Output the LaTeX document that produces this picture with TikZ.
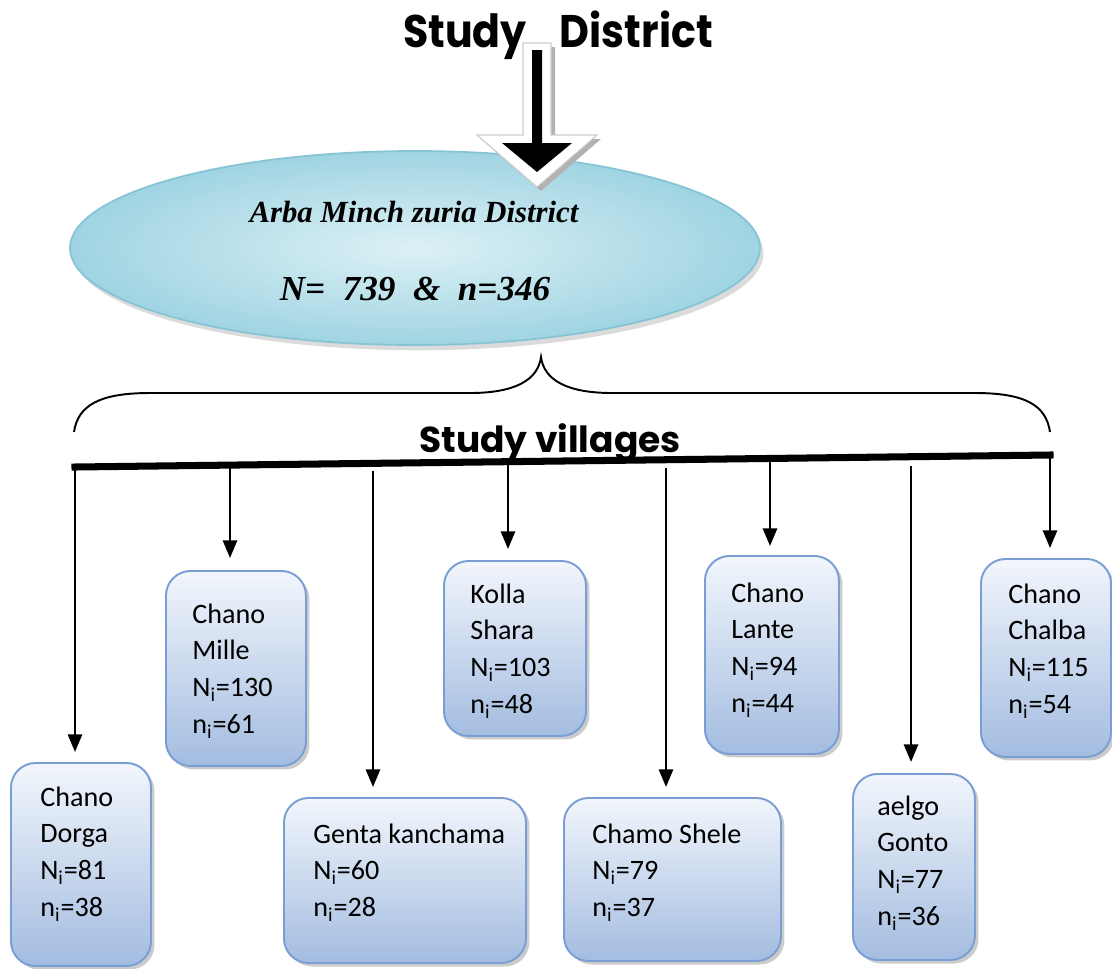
\documentclass[tikz,border=0pt]{standalone}
\usepackage{fontspec}
\setmainfont{Carlito}
\newfontfamily\popfont{Poppins}
\newfontfamily\timesfont{Liberation Serif}
\usetikzlibrary{shapes.geometric,arrows.meta,shadows}
\newdimen\px \px=0.02cm
\definecolor{boxedge}{HTML}{7A9ED4}
\definecolor{boxtop}{HTML}{F2F6FC}
\definecolor{boxbot}{HTML}{A3BCE0}
\definecolor{ellin}{HTML}{DCF1F6}
\definecolor{ellout}{HTML}{A0D4E2}
\definecolor{elledge}{HTML}{86C4D5}
\newcommand\vl[1]{\vtop{\baselineskip=21pt\halign{##\hfil\cr#1\crcr}}}
\tikzset{
  vbox/.style={draw=boxedge, line width=1.1pt, rounded corners=14pt,
    top color=boxtop, bottom color=boxbot, inner sep=0pt, anchor=north west,
    drop shadow={shadow xshift=2pt, shadow yshift=-2pt, fill=black!45, opacity=0.45}},
  vtext/.style={anchor=base west, inner sep=0pt, font=\fontsize{16}{21}\selectfont},
  varrow/.style={line width=1.4pt, -{Triangle[width=8pt,length=10pt]}},
  barline/.style={line width=4pt},
  bracestyle/.style={line width=1.1pt},
  elltext/.style={anchor=base, inner sep=0pt},
}
\begin{document}
\begin{tikzpicture}[x=0.02cm,y=-0.02cm]
\useasboundingbox (0,0) rectangle (1112,968);
% ellipse
\node[ellipse, draw=elledge, line width=1pt, inner color=ellin, outer color=ellout,
  minimum width=690\px, minimum height=194\px,
  drop shadow={shadow xshift=2pt, shadow yshift=-3pt, fill=black!40, opacity=0.35}] (dist) at (415,248) {};
\node[elltext, font=\timesfont\bfseries\itshape\fontsize{17.5}{20}\selectfont] (e1) at (414,222) {Arba Minch zuria District};
\node[elltext, font=\timesfont\bfseries\itshape\fontsize{20}{24}\selectfont] (e2) at (415,300) {N=\hspace{10pt}739\hspace{10pt}\&\hspace{10pt}n=346};
% big arrow
\fill[black!30] (527,47) -- (555,47) -- (555,139) -- (601,139) -- (541,191) -- (481,139) -- (527,139) -- cycle;
\filldraw[fill=white, draw=black!20, line width=0.6pt] (523,43) -- (551,43) -- (551,135) -- (597,135) -- (537,187) -- (477,135) -- (523,135) -- cycle;
\fill[black] (532,50) -- (542,50) -- (542,143) -- (572,143) -- (537,172) -- (502,143) -- (532,143) -- cycle;
% title
\node[anchor=base, inner sep=0pt, font=\popfont\bfseries\fontsize{26}{30}\selectfont] (title) at (558,47) {\scalebox{0.9}[1]{Study\hspace{21pt}District}};
% brace
\coordinate (btip) at (541,357);
\draw[bracestyle] (74,432) .. controls (78,405) and (100,393) .. (150,393) -- (470,393)
  .. controls (515,393) and (538,380) .. (btip)
  .. controls (544,380) and (567,393) .. (612,393) -- (975,393)
  .. controls (1025,393) and (1046,405) .. (1050,432);
% label
\node[anchor=base, inner sep=0pt, font=\popfont\bfseries\fontsize{20.5}{24}\selectfont] (vill) at (550,452) {Study villages};
% boxes
\node[vbox, minimum width=140\px, minimum height=203\px] (b1) at (10,762) {};
\node[vbox, minimum width=140\px, minimum height=195\px] (b2) at (165,570) {};
\node[vbox, minimum width=242\px, minimum height=165\px] (b3) at (283,797) {};
\node[vbox, minimum width=142\px, minimum height=175\px] (b4) at (443,560) {};
\node[vbox, minimum width=217\px, minimum height=163\px] (b5) at (563,797) {};
\node[vbox, minimum width=134\px, minimum height=198\px] (b6) at (704,555) {};
\node[vbox, minimum width=122\px, minimum height=186\px] (b7) at (852,773) {};
\node[vbox, minimum width=130\px, minimum height=198\px] (b8) at (980,558) {};
% texts
\node[vtext] (t1) at (40,806) {\vl{Chano\cr Dorga\cr N\textsubscript{i}=81\cr n\textsubscript{i}=38}};
\node[vtext] (t2) at (192,623) {\vl{Chano\cr Mille\cr N\textsubscript{i}=130\cr n\textsubscript{i}=61}};
\node[vtext] (t3) at (313,843) {\vl{Genta kanchama\cr N\textsubscript{i}=60\cr n\textsubscript{i}=28}};
\node[vtext] (t4) at (470,603) {\vl{Kolla\cr Shara\cr N\textsubscript{i}=103\cr n\textsubscript{i}=48}};
\node[vtext] (t5) at (592,843) {\vl{Chamo Shele\cr N\textsubscript{i}=79\cr n\textsubscript{i}=37}};
\node[vtext] (t6) at (731,602) {\vl{Chano\cr Lante\cr N\textsubscript{i}=94\cr n\textsubscript{i}=44}};
\node[vtext] (t7) at (877,815) {\vl{aelgo\cr Gonto\cr N\textsubscript{i}=77\cr n\textsubscript{i}=36}};
\node[vtext] (t8) at (1008,603) {\vl{Chano\cr Chalba\cr N\textsubscript{i}=115\cr n\textsubscript{i}=54}};
% bar and arrows
\coordinate (barL) at (75,467);
\coordinate (barR) at (1050,455);
\coordinate (a2) at (230,465);
\coordinate (a3) at (373,471);
\coordinate (a4) at (508,462);
\coordinate (a5) at (666,468);
\coordinate (a6) at (770,458);
\coordinate (a7) at (911,466);
\draw[varrow, shorten >=10\px] (barL) -- (barL |- b1.north);
\draw[varrow, shorten >=12\px] (a2) -- (a2 |- b2.north);
\draw[varrow, shorten >=10\px] (a3) -- (a3 |- b3.north);
\draw[varrow, shorten >=11\px] (a4) -- (a4 |- b4.north);
\draw[varrow, shorten >=10\px] (a5) -- (a5 |- b5.north);
\draw[varrow, shorten >=9\px] (a6) -- (a6 |- b6.north);
\draw[varrow, shorten >=11\px] (a7) -- (a7 |- b7.north);
\draw[varrow, shorten >=10\px] (barR) -- (barR |- b8.north);
\draw[barline, line cap=rect] (barL) -- (barR);
\end{tikzpicture}
\end{document}
